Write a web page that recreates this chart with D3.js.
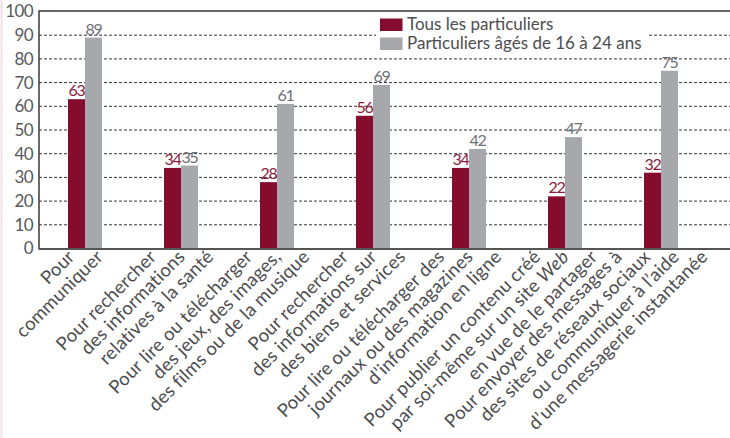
<!DOCTYPE html>
<html lang="fr">
<head>
<meta charset="UTF-8">
<title>Usages d'Internet</title>
<script src="https://d3js.org/d3.v7.min.js"></script>
<style>
  body { margin: 0; background: #fff; }
  svg { display: block; font-family: Lato, "Open Sans", sans-serif; }
</style>
</head>
<body>
<svg id="chart" width="730" height="438"></svg>
<script>
// data
const categories = [
  ["Pour", "communiquer"],
  ["Pour rechercher", "des informations", "relatives à la santé"],
  ["Pour lire ou télécharger", "des jeux, des images,", "des films ou de la musique"],
  ["Pour rechercher", "des informations sur", "des biens et services"],
  ["Pour lire ou télécharger des", "journaux ou des magazines", "d’information en ligne"],
  ["Pour publier un contenu créé", "par soi-même sur un site *Web*", "en vue de le partager"],
  ["Pour envoyer des messages à", "des sites de réseaux sociaux", "ou communiquer à l’aide", "d’une messagerie instantanée"]
];
const seriesNames = ["Tous les particuliers", "Particuliers âgés de 16 à 24 ans"];
const tous = [63, 34, 28, 56, 34, 22, 32];
const jeunes = [89, 35, 61, 69, 42, 47, 75];
const yTicks = [0, 10, 20, 30, 40, 50, 60, 70, 80, 90, 100];

const colors = ["#850c2f", "#a7a8ab"];
const labelColors = ["#8c1a3d", "#6f7073"];

const svg = d3.select("#chart");
const mLeft = 39, mRight = 730, mTop = 11.5, mBottom = 248.5;

const idx = d3.range(categories.length);
const x = d3.scaleBand().domain(idx).range([37, 709]);
const xs = d3.scaleBand().domain([0, 1]).range([0, 34]);
const y = d3.scaleLinear().domain([0, 100]).range([mBottom, mTop]);

// faint page edge
svg.append("line").attr("x1", 1.5).attr("x2", 1.5).attr("y1", 0).attr("y2", 438)
  .attr("stroke", "#f1dfe5").attr("stroke-width", 2);

// grid
svg.append("g").selectAll("line")
  .data(yTicks.filter(d => d > 0 && d < 100))
  .join("line")
  .attr("x1", mLeft).attr("x2", mRight)
  .attr("y1", d => y(d)).attr("y2", d => y(d))
  .attr("stroke", "#333").attr("stroke-width", 1)
  .attr("stroke-dasharray", "3,2");

// y axis
const yAxis = svg.append("g")
  .attr("transform", `translate(${mLeft},0)`)
  .call(d3.axisLeft(y).tickValues(yTicks).tickSize(0).tickPadding(6));
yAxis.select(".domain").remove();
yAxis.selectAll("text").attr("font-size", 17).attr("fill", "#58595b")
  .attr("font-family", "Lato, sans-serif").attr("letter-spacing", -0.6);

// frame
svg.append("line").attr("x1", mLeft).attr("x2", mRight).attr("y1", mTop - 0.5).attr("y2", mTop - 0.5)
  .attr("stroke", "#333").attr("stroke-width", 1.6);
svg.append("line").attr("x1", mLeft).attr("x2", mLeft).attr("y1", mTop - 1).attr("y2", mBottom + 1)
  .attr("stroke", "#444").attr("stroke-width", 1.6);

// bars
const groups = svg.append("g").selectAll("g")
  .data(idx)
  .join("g")
  .attr("transform", i => `translate(${x(i) + x.bandwidth() / 2 - 17},0)`);

[tous, jeunes].forEach((vals, s) => {
  groups.append("rect")
    .attr("x", xs(s))
    .attr("width", xs.bandwidth())
    .attr("y", i => y(vals[i]))
    .attr("height", i => y(0) - y(vals[i]))
    .attr("fill", colors[s]);
  groups.append("text")
    .attr("x", xs(s) + xs.bandwidth() / 2)
    .attr("y", i => y(vals[i]) - 3)
    .attr("text-anchor", "middle")
    .attr("font-size", 16)
    .attr("letter-spacing", -1.2)
    .attr("fill", labelColors[s])
    .text(i => vals[i]);
});

// bottom axis line
svg.append("line").attr("x1", mLeft).attr("x2", mRight).attr("y1", mBottom + 0.5).attr("y2", mBottom + 0.5)
  .attr("stroke", "#555").attr("stroke-width", 2);

// category labels, rotated
const lineStep = 28.5;
idx.forEach(i => {
  const lines = categories[i];
  const cx = x(i) + x.bandwidth() / 2 + 5;
  lines.forEach((ln, k) => {
    const ax = cx + (k - (lines.length - 1) / 2) * lineStep;
    const ay = 258;
    const t = svg.append("text")
      .attr("transform", `translate(${ax},${ay}) rotate(-45)`)
      .attr("text-anchor", "end")
      .attr("font-size", 18.5)
      .attr("letter-spacing", 0.2)
      .attr("fill", "#4d4d4f");
    ln.split("*").forEach((part, p) => {
      if (!part) return;
      t.append("tspan").attr("font-style", p % 2 ? "italic" : null).text(part);
    });
  });
});

// legend
const lg = svg.append("g").attr("transform", "translate(376,14)");
lg.append("rect").attr("width", 273).attr("height", 40).attr("fill", "#fff");
seriesNames.forEach((name, s) => {
  lg.append("rect").attr("x", 4).attr("y", 4.5 + s * 19).attr("width", 22.5).attr("height", 12.5)
    .attr("fill", colors[s]);
  lg.append("text").attr("x", 31).attr("y", 16 + s * 19)
    .attr("font-size", 17).attr("fill", "#4d4d4f").text(name);
});
</script>
</body>
</html>
